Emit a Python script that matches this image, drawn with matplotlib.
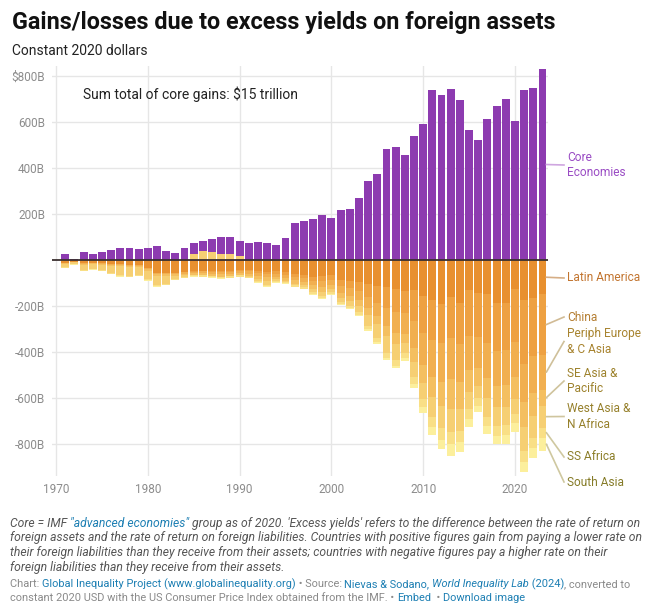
import matplotlib
matplotlib.use('Agg')
import matplotlib.pyplot as plt
from matplotlib.lines import Line2D
import numpy as np

plt.rcParams['font.family'] = ['Roboto', 'DejaVu Sans']
plt.rcParams['text.parse_math'] = False

# ---------------- data (billions, constant 2020 USD) ----------------
years = list(range(1971, 2024))

core_economies = [25, 5, 35, 27, 35, 42, 52, 52, 48, 52,
                  60, 40, 32, 53, 50, 44, 57, 75, 75, 65,
                  72, 78, 75, 67, 94, 161, 168, 180, 197, 183,
                  216, 222, 270, 342, 375, 484, 490, 455, 541, 590,
                  741, 717, 745, 697, 564, 522, 612, 670, 701, 604,
                  741, 749, 830]

# losses (magnitudes, drawn below zero)
latin_america = [12, 8, 14, 12, 14, 16, 18, 20, 22, 35,
                 55, 55, 55, 52, 50, 48, 48, 50, 50, 45,
                 45, 50, 52, 50, 52, 60, 65, 72, 70, 65,
                 85, 90, 95, 105, 115, 119, 124, 136, 129, 158,
                 172, 191, 162, 187, 129, 143, 146, 187, 187, 125,
                 174, 167, 150]
china = [0, 0, 0, 0, 0, 0, 0, 0, 0, 0,
         0, 0, 0, 1, 1, 2, 3, 3, 3, 4,
         5, 7, 10, 10, 12, 14, 15, 18, 22, 22,
         28, 32, 40, 55, 70, 90, 100, 95, 135, 160,
         175, 170, 175, 180, 200, 190, 215, 210, 205, 230,
         280, 250, 261]
periph_europe = [2, 1, 3, 3, 3, 4, 5, 5, 5, 6,
                 7, 7, 7, 7, 7, 8, 9, 10, 9, 9,
                 10, 12, 14, 12, 13, 15, 16, 20, 25, 22,
                 30, 33, 38, 50, 60, 80, 95, 90, 120, 140,
                 160, 170, 180, 165, 150, 135, 150, 150, 150, 155,
                 165, 160, 152]
se_asia = [2, 1, 3, 3, 3, 4, 5, 5, 5, 6,
           7, 7, 7, 7, 7, 8, 9, 10, 9, 9,
           10, 12, 15, 12, 13, 14, 14, 18, 20, 18,
           22, 23, 25, 30, 35, 40, 45, 40, 60, 75,
           90, 105, 130, 115, 95, 80, 90, 90, 95, 95,
           105, 100, 70]
# West Asia & N Africa: signed net (gains positive, losses negative)
west_asia_net = [-16, -8, -23, -20, -23, -33, -38, -39, -32, -37,
                 -40, -34, -12, -6, 25, 40, 33, 26, 26, 17,
                 -2, -9, -16, -6, -6, -7, -8, -12, -20, -13,
                 -17, -20, -27, -45, -60, -75, -72, -45, -65, -70,
                 -85, -95, -100, -95, -75, -50, -80, -85, -80, -65,
                 -105, -95, -96]
ss_africa = [2, 1, 3, 3, 3, 4, 5, 5, 5, 5,
             6, 6, 6, 6, 6, 7, 7, 7, 7, 6,
             6, 6, 7, 6, 6, 7, 7, 9, 10, 9,
             10, 11, 13, 16, 18, 20, 23, 22, 30, 38,
             45, 50, 55, 50, 42, 35, 42, 43, 45, 40,
             50, 45, 44]
south_asia = [1, 1, 1, 1, 1, 1, 1, 1, 1, 1,
              1, 1, 1, 1, 1, 2, 2, 2, 2, 2,
              2, 2, 2, 2, 2, 2, 2, 3, 4, 3,
              4, 5, 5, 6, 7, 9, 11, 12, 18, 24,
              33, 39, 48, 42, 36, 26, 35, 35, 38, 36,
              44, 45, 57]

y_ticks = [-800, -600, -400, -200, 200, 400, 600, 800]
y_tick_labels = ['-800B', '-600B', '-400B', '-200B', '200B', '400B', '600B', '$800B']
x_ticks = [1970, 1980, 1990, 2000, 2010, 2020]

# ---------------- style ----------------
C_CORE = '#8d3bb0'
C_LA, C_CN, C_PE, C_SE, C_WA, C_SS, C_SA = ('#e8902f', '#eea142', '#f1af50', '#f4bf60',
                                            '#f6cf73', '#f9df86', '#fcef9c')

W, H = 649, 612
fig = plt.figure(figsize=(W / 100, H / 100), dpi=100)
fig.patch.set_facecolor('white')


def fx(px):
    return px / W


def fy(py):
    return 1 - py / H


ax_top, ax_bot, ax_l, ax_r = 65.6, 476, 52, 548
ax = fig.add_axes([fx(ax_l), fy(ax_bot), fx(ax_r) - fx(ax_l), (ax_bot - ax_top) / H])
ax.set_xlim(1969.56, 2023.6)
ax.set_ylim(-939, 845)

x = np.array(years)
bw = 0.86

wa = np.array(west_asia_net, dtype=float)
wa_pos = np.clip(wa, 0, None)
wa_neg = np.clip(wa, None, 0)

# positive stack
pos_bottom = np.zeros(len(x))
ax.bar(x, wa_pos, width=bw, bottom=pos_bottom, color=C_WA, linewidth=0, zorder=3)
pos_bottom += wa_pos
ax.bar(x, core_economies, width=bw, bottom=pos_bottom, color=C_CORE, linewidth=0, zorder=3)

# negative stack
neg_series = [(-np.array(latin_america, float), C_LA),
              (-np.array(china, float), C_CN),
              (-np.array(periph_europe, float), C_PE),
              (-np.array(se_asia, float), C_SE),
              (wa_neg, C_WA),
              (-np.array(ss_africa, float), C_SS),
              (-np.array(south_asia, float), C_SA)]
neg_bottom = np.zeros(len(x))
mids_last = []
for vals, col in neg_series:
    ax.bar(x, vals, width=bw, bottom=neg_bottom, color=col, linewidth=0, zorder=3)
    mids_last.append(neg_bottom[-1] + vals[-1] / 2)
    neg_bottom += vals

ax.axhline(0, color='#3a3030', lw=1.3, zorder=5)

ax.set_yticks(y_ticks)
ax.set_yticklabels(y_tick_labels)
ax.set_xticks(x_ticks)
ax.set_xticklabels([str(v) for v in x_ticks])
ax.grid(True, color='#e6e6e6', lw=1.0, zorder=0)
ax.set_axisbelow(True)
for s in ax.spines.values():
    s.set_visible(False)
ax.tick_params(axis='both', length=0, labelsize=8.5, labelcolor='#8c8c8c')
ax.tick_params(axis='y', pad=5)
ax.tick_params(axis='x', pad=5)

ax.text(1972.94, 700, 'Sum total of core gains: $15 trillion', fontsize=10.0,
        color='#222222', va='baseline', ha='left')

# ---------------- right-hand labels ----------------
fig.canvas.draw()
inv = fig.transFigure.inverted()

labels = [
    ('Core\nEconomies', 165, pos_bottom[-1] + core_economies[-1] / 2, '#9a4cc4', '#cfa6e0'),
    ('Latin America', 278, mids_last[0], '#c27530', '#d6ae86'),
    ('China', 317, mids_last[1], '#b57f33', '#d1bb95'),
    ('Periph Europe\n& C Asia', 341.5, mids_last[2], '#a88430', '#cfc09a'),
    ('SE Asia &\nPacific', 381, mids_last[3], '#9d822d', '#cfc39c'),
    ('West Asia &\nN Africa', 416.5, mids_last[4], '#96802b', '#cfc59e'),
    ('SS Africa', 457, mids_last[5], '#8c7e29', '#cfc8a0'),
    ('South Asia', 482, mids_last[6], '#857b27', '#cfc8a0'),
]
for txt, ypx, mid, tcol, lcol in labels:
    start = inv.transform(ax.transData.transform((2023 + bw / 2, mid)))
    end = (fx(564), fy(ypx))
    fig.add_artist(Line2D([start[0], end[0]], [start[1], end[1]], color=lcol, lw=1.2,
                          transform=fig.transFigure))
    fig.text(fx(567), fy(ypx), txt, fontsize=8.6, color=tcol, va='center', ha='left',
             linespacing=1.22)

# ---------------- titles ----------------
fig.text(fx(12), fy(28.5), 'Gains/losses due to excess yields on foreign assets',
         fontsize=16.8, fontweight='bold', color='#111111', va='baseline', ha='left')
fig.text(fx(12), fy(55), 'Constant 2020 dollars', fontsize=10.0, color='#222222',
         va='baseline', ha='left')

# ---------------- footnotes ----------------
renderer = fig.canvas.get_renderer()


def text_width(s, **kw):
    t1 = fig.text(0, 0, s + '|', **kw)
    t2 = fig.text(0, 0, '|', **kw)
    w = t1.get_window_extent(renderer).width - t2.get_window_extent(renderer).width
    t1.remove()
    t2.remove()
    return w


def rich_line(x_px, base_px, pieces, size):
    xp = x_px
    for s, col, st in pieces:
        kw = dict(fontsize=size, color=col, fontstyle=st)
        fig.text(fx(xp), fy(base_px), s, va='baseline', ha='left', **kw)
        xp += text_width(s, **kw)


GRAY_N = '#555555'
GRAY_C = '#8a8a8a'
BLUE = '#1d7fb3'
fs_note = 8.75
rich_line(10, 527, [('Core = IMF ', GRAY_N, 'italic'),
                    ('"advanced economies"', BLUE, 'italic'),
                    (" group as of 2020. 'Excess yields' refers to the difference between the rate of return on",
                     GRAY_N, 'italic')], fs_note)
rich_line(10, 541.5, [('foreign assets and the rate of return on foreign liabilities. Countries with positive figures gain from paying a lower rate on',
                       GRAY_N, 'italic')], fs_note)
rich_line(10, 556, [('their foreign liabilities than they receive from their assets; countries with negative figures pay a higher rate on their',
                     GRAY_N, 'italic')], fs_note)
rich_line(10, 570.5, [('foreign liabilities than they receive from their assets.', GRAY_N, 'italic')], fs_note)

fs_cred = 7.95
rich_line(10, 587, [('Chart: ', GRAY_C, 'normal'),
                    ('Global Inequality Project (www.globalinequality.org)', BLUE, 'normal'),
                    (' \u2022 Source: ', GRAY_C, 'normal'),
                    ('Nievas & Sodano, ', BLUE, 'normal'),
                    ('World Inequality Lab', BLUE, 'italic'),
                    (' (2024)', BLUE, 'normal'),
                    (', converted to', GRAY_C, 'normal')], fs_cred)
rich_line(10, 601, [('constant 2020 USD with the US Consumer Price Index obtained from the IMF. \u2022 ', GRAY_C, 'normal'),
                    ('Embed', BLUE, 'normal'),
                    ('  \u2022 ', GRAY_C, 'normal'),
                    ('Download image', BLUE, 'normal')], fs_cred)

fig.savefig('out.png', dpi=100, facecolor='white')
